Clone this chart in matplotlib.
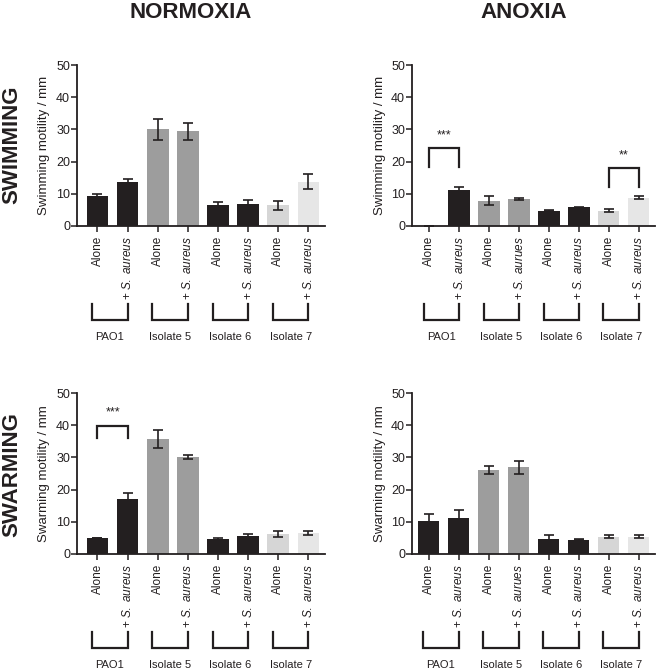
import matplotlib
matplotlib.use("Agg")
import matplotlib.pyplot as plt
import matplotlib.transforms as mtransforms

plt.rcParams['font.family'] = ['Liberation Sans', 'DejaVu Sans']
plt.rcParams['mathtext.fontset'] = 'custom'
plt.rcParams['mathtext.rm'] = 'Liberation Sans'
plt.rcParams['mathtext.it'] = 'Liberation Sans:italic'

# data (mean, error)
groups = ['PAO1', 'Isolate 5', 'Isolate 6', 'Isolate 7']
conditions = ['Alone', '+ S. aureus']

swim_norm = [9.3, 13.7, 30.0, 29.4, 6.4, 6.9, 6.4, 13.8]
swim_norm_err = [0.5, 0.9, 3.2, 2.7, 1.0, 1.1, 1.4, 2.4]
swim_anox = [0.0, 11.1, 7.8, 8.4, 4.8, 5.8, 4.8, 8.8]
swim_anox_err = [0.0, 0.9, 1.4, 0.4, 0.2, 0.2, 0.4, 0.4]
swarm_norm = [5.1, 17.1, 35.7, 30.1, 4.7, 5.5, 6.2, 6.5]
swarm_norm_err = [0.0, 1.8, 2.7, 0.55, 0.3, 0.6, 0.9, 0.7]
swarm_anox = [10.3, 11.2, 26.0, 26.9, 4.6, 4.4, 5.4, 5.4]
swarm_anox_err = [2.1, 2.5, 1.2, 1.9, 1.4, 0.2, 0.4, 0.4]

bar_colors = ['#231f20', '#231f20', '#9d9d9d', '#9d9d9d',
              '#231f20', '#231f20', '#d6d6d6', '#e6e6e6']
dark = '#231f20'

W, H = 656, 670
fig = plt.figure(figsize=(W / 100, H / 100), dpi=100)


def px_axes(left, right, top, bottom):
    return fig.add_axes([left / W, 1 - bottom / H, (right - left) / W, (bottom - top) / H])


def it_label(lbl):
    if lbl.startswith('+'):
        return lbl.replace('S. aureus', r'$\it{S.\ aureus}$').replace('S. aurues', r'$\it{S.\ aurues}$')
    return lbl


def panel(ax, vals, errs, ylabel, xleft, labels, sig=None):
    x = list(range(len(vals)))
    ax.bar(x, vals, width=0.72, color=bar_colors, zorder=2)
    ax.errorbar(x, vals, yerr=errs, fmt='none', ecolor=dark, elinewidth=1.2,
                capsize=3.5, capthick=1.2, zorder=3)
    ax.set_xlim(xleft, 7.55)
    ax.set_ylim(0, 50)
    ax.set_yticks([0, 10, 20, 30, 40, 50])
    ax.set_xticks(x)
    ax.set_xticklabels([it_label(l) for l in labels], rotation=90, fontsize=8.5, color=dark)
    ax.tick_params(axis='y', labelsize=9, colors=dark, length=4, width=1.1, pad=1)
    ax.tick_params(axis='x', length=4, width=1.1, colors=dark, pad=3)
    ax.set_ylabel(ylabel, fontsize=9.5, color=dark, labelpad=4)
    for s in ['top', 'right']:
        ax.spines[s].set_visible(False)
    for s in ['left', 'bottom']:
        ax.spines[s].set_linewidth(1.3)
        ax.spines[s].set_color(dark)

    trans = mtransforms.blended_transform_factory(ax.transData, ax.transAxes)
    for g, name in enumerate(groups):
        a, b = 2 * g - 0.18, 2 * g + 1
        ax.plot([a, a, b, b], [-0.483, -0.582, -0.582, -0.483], color=dark, lw=1.6,
                transform=trans, clip_on=False, solid_joinstyle='miter')
        ax.text((a + b) / 2, -0.69, name, transform=trans, ha='center', va='center',
                fontsize=8, color=dark)

    if sig:
        for (a, b, top, leg, star) in sig:
            ax.plot([a, a, b, b], [leg, top, top, leg], color=dark, lw=1.6, zorder=4,
                    solid_joinstyle='miter')
            ax.text((a + b) / 2, top + 2.2, star, ha='center', va='bottom', fontsize=9, color=dark)


labels_a = ['Alone', '+ S. aureus'] * 4
labels_b = ['Alone', '+ S. aureus', 'Alone', '+ S. aurues', 'Alone', '+ S. aureus', 'Alone', '+ S. aureus']

ax1 = px_axes(77, 325, 65, 226)
panel(ax1, swim_norm, swim_norm_err, 'Swimming motility / mm', -0.68, labels_a)
ax2 = px_axes(412, 655, 65, 226)
panel(ax2, swim_anox, swim_anox_err, 'Swimming motility / mm', -0.58, labels_b,
      sig=[(0, 1, 24.1, 18.2, '***'), (6, 7, 18.0, 12.0, '**')])
ax3 = px_axes(77, 325, 393, 554)
panel(ax3, swarm_norm, swarm_norm_err, 'Swarming motility / mm', -0.68, labels_a,
      sig=[(0, 1, 39.9, 36.0, '***')])
ax4 = px_axes(412, 655, 393, 554)
panel(ax4, swarm_anox, swarm_anox_err, 'Swarming motility / mm', -0.55, labels_b)

title_kw = dict(fontsize=16, fontweight='bold', color=dark)
fig.text(191 / W, 1 - 18 / H, 'NORMOXIA', ha='center', va='baseline', **title_kw)
fig.text(524 / W, 1 - 18 / H, 'ANOXIA', ha='center', va='baseline', **title_kw)
fig.text(1 / W, 1 - 145 / H, 'SWIMMING', ha='left', va='center', rotation=90, **title_kw)
fig.text(1 / W, 1 - 475 / H, 'SWARMING', ha='left', va='center', rotation=90, **title_kw)

fig.savefig('out.png', dpi=100)
